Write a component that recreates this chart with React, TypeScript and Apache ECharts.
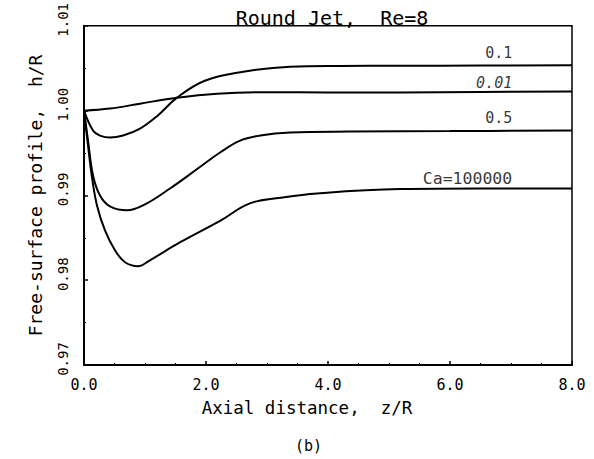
import React, { useEffect, useRef } from "react";
import * as echarts from "echarts";

const FONT = "DejaVu Sans Mono";

// Axial distance z/R and free-surface profile h/R for each capillary number
const ca01X = [0, 0.148, 0.262, 0.426, 0.64, 0.918, 1.197, 1.525, 1.98, 2.61, 3.38, 4.2, 5.18, 6.5, 8.0];
const ca01Y = [1.0, 0.99765, 0.99706, 0.99682, 0.99706, 0.99788, 0.99935, 1.00153, 1.00353, 1.00459, 1.00518, 1.00527, 1.00529, 1.00532, 1.00535];

const ca001X = [0, 0.426, 0.918, 1.525, 2.18, 3.0, 4.0, 5.18, 6.5, 8.0];
const ca001Y = [1.0, 1.00024, 1.00082, 1.00153, 1.002, 1.00218, 1.00215, 1.00214, 1.0022, 1.00226];

const ca05X = [0, 0.066, 0.148, 0.262, 0.426, 0.705, 1.0, 1.41, 1.9, 2.23, 2.56, 2.89, 3.38, 4.36, 6.0, 8.0];
const ca05Y = [1.0, 0.99647, 0.99235, 0.99, 0.98871, 0.98824, 0.98894, 0.99082, 0.99335, 0.99506, 0.99647, 0.99706, 0.99741, 0.99753, 0.99759, 0.99765];

const caBigX = [0, 0.066, 0.131, 0.213, 0.344, 0.508, 0.672, 0.885, 1.08, 1.57, 2.23, 2.72, 3.26, 3.82, 5.18, 6.5, 8.0];
const caBigY = [1.0, 0.99588, 0.99212, 0.98882, 0.98588, 0.98353, 0.98212, 0.98165, 0.98235, 0.98445, 0.987, 0.98906, 0.98976, 0.99024, 0.99075, 0.99082, 0.99082];

const curveLabels = ["0.1", "0.01", "0.5", "Ca=100000"];
const labelX = [7.02, 7.02, 7.02, 7.02];
const labelY = [1.00682, 1.00329, 0.99918, 0.992];
const labelItalic = [false, true, false, false];

const xTicks = ["0.0", "2.0", "4.0", "6.0", "8.0"];
const yTicks = ["0.97", "0.98", "0.99", "1.00", "1.01"];

const zip = (xs: number[], ys: number[]) => xs.map((x, i) => [x, ys[i]]);

export default function App() {
  const ref = useRef<HTMLDivElement>(null);
  useEffect(() => {
    if (!ref.current) return;
    const chart = echarts.init(ref.current, null, { renderer: "svg" });
    const lineStyle = { color: "#000", width: 2 };
    const mk = (name: string, data: number[][]) => ({
      name,
      type: "line",
      data,
      showSymbol: false,
      symbol: "none",
      smooth: 0.4,
      lineStyle,
      z: 3,
    });
    chart.setOption({
      animation: false,
      backgroundColor: "#fff",
      title: {
        text: "Round Jet,  Re=8",
        left: 327,
        top: 3,
        textAlign: "center",
        textStyle: { fontFamily: FONT, fontSize: 20, fontWeight: "normal", color: "#000" },
      },
      grid: {
        left: 84,
        right: 22,
        top: 25,
        bottom: 94,
        show: true,
        borderColor: "#000",
        borderWidth: 1.5,
        backgroundColor: "transparent",
      },
      xAxis: {
        type: "value",
        min: 0,
        max: 8,
        interval: 2,
        name: "Axial distance,  z/R",
        nameLocation: "middle",
        nameGap: 34,
        nameTextStyle: { fontFamily: FONT, fontSize: 17.5, color: "#000", padding: [0, 42, 0, 0] },
        axisLine: { show: true, lineStyle: { color: "#000", width: 2 } },
        axisTick: { show: true, inside: true, length: 4, lineStyle: { color: "#000", width: 1.5 } },
        minorTick: { show: true, splitNumber: 4, length: 2, lineStyle: { color: "#000", width: 1 } },
        splitLine: { show: false },
        axisLabel: {
          fontFamily: FONT,
          fontSize: 15,
          color: "#000",
          margin: 12,
          formatter: (v: number) => xTicks[Math.round(v / 2)] ?? "",
        },
      },
      yAxis: {
        type: "value",
        min: 0.97,
        max: 1.01,
        interval: 0.01,
        name: "Free-surface profile,  h/R",
        nameLocation: "middle",
        nameGap: 40,
        nameTextStyle: { fontFamily: FONT, fontSize: 18, color: "#000" },
        axisLine: { show: true, lineStyle: { color: "#000", width: 2 } },
        axisTick: { show: true, inside: true, length: 4, lineStyle: { color: "#000", width: 1.5 } },
        minorTick: { show: true, splitNumber: 2, length: 2, lineStyle: { color: "#000", width: 1 } },
        splitLine: { show: false },
        axisLabel: {
          fontFamily: FONT,
          fontSize: 14,
          color: "#000",
          rotate: 90,
          margin: 14,
          padding: [0, 0, 0, 12],
          formatter: (v: number) => yTicks[Math.round((v - 0.97) / 0.01)] ?? "",
        },
      },
      series: [
        mk("0.1", zip(ca01X, ca01Y)),
        mk("0.01", zip(ca001X, ca001Y)),
        mk("0.5", zip(ca05X, ca05Y)),
        mk("Ca=100000", zip(caBigX, caBigY)),
        {
          name: "labels",
          type: "scatter",
          symbolSize: 0,
          silent: true,
          data: curveLabels.map((t, i) => ({
            value: [labelX[i], labelY[i]],
            label: {
              show: true,
              position: "left",
              distance: 0,
              formatter: t,
              fontFamily: FONT,
              fontSize: i === 3 ? 16.5 : 15,
              fontStyle: labelItalic[i] ? "italic" : "normal",
              color: "#000",
            },
          })),
        },
      ],
      graphic: [
        {
          type: "text",
          left: 295,
          top: 438,
          style: { text: "(b)", fontFamily: FONT, fontSize: 15, fill: "#000" },
        },
      ],
    });
    return () => chart.dispose();
  }, []);
  return <div ref={ref} style={{ width: 594, height: 459, position: "absolute", left: 0, top: 0 }} />;
}
